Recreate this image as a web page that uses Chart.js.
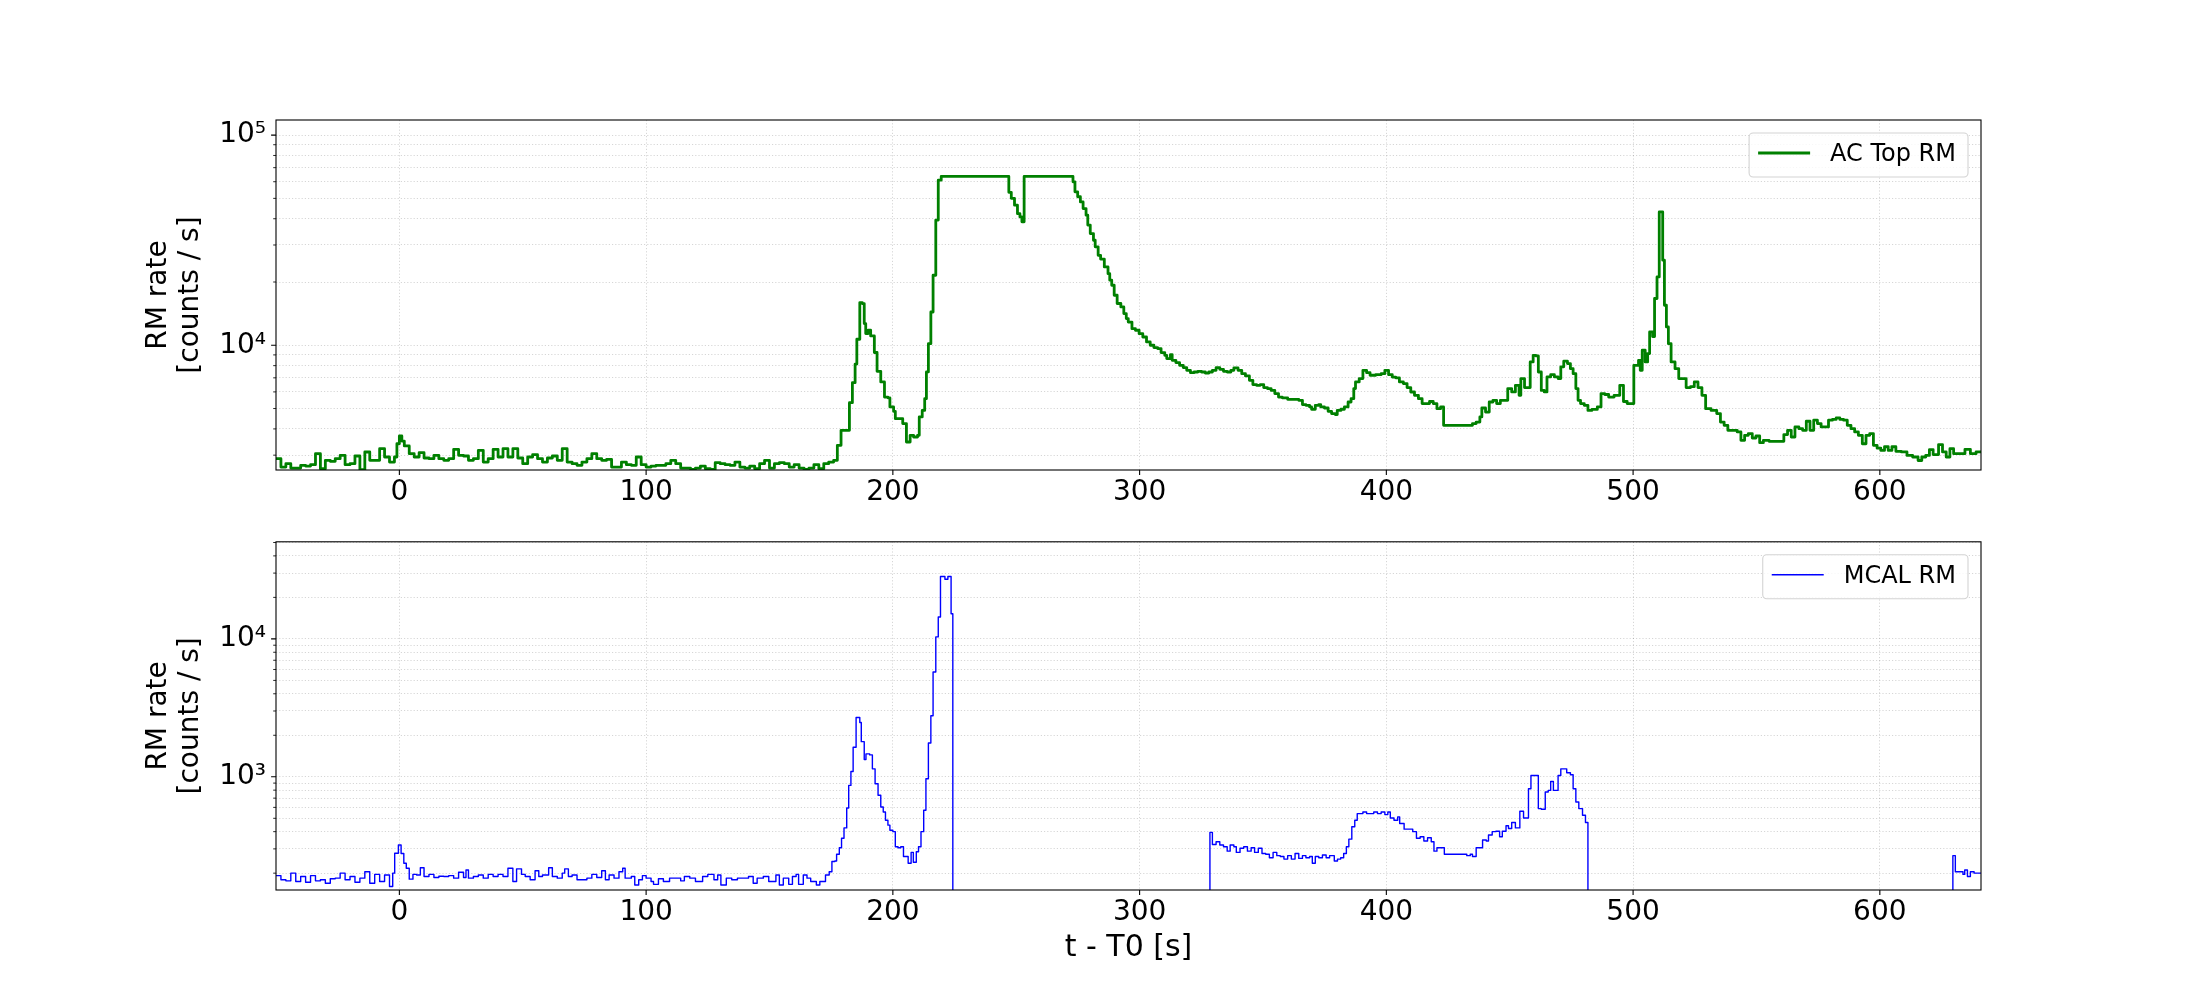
<!DOCTYPE html>
<html>
<head>
<meta charset="utf-8">
<script src="https://cdn.jsdelivr.net/npm/chart.js@4.4.1/dist/chart.umd.min.js"></script>
<style>
  html, body { margin: 0; padding: 0; background: #fff; }
  #wrap { position: relative; width: 2200px; height: 1000px; background: #fff; }
  canvas { position: absolute; left: 0; }
</style>
</head>
<body>
<div id="wrap">
  <canvas id="acChart" width="2200" height="515" style="top:0px"></canvas>
  <canvas id="mcalChart" width="2200" height="485" style="top:515px"></canvas>
</div>
<script>
// AC Top ratemeter: bin start time (s) and rate (counts / s)
const acTime = [
  -50, -48, -46, -44, -42, -40, -38, -36, -34, -32,
  -30, -28, -26, -24, -22, -20, -18, -16, -14, -12,
  -10, -8, -6, -4, -2, -1, 0, 1, 2, 4,
  6, 8, 10, 12, 14, 16, 18, 20, 22, 24,
  26, 28, 30, 32, 34, 36, 38, 40, 42, 44,
  46, 48, 50, 52, 54, 56, 58, 60, 62, 64,
  66, 68, 70, 72, 74, 76, 78, 80, 82, 84,
  86, 88, 90, 92, 94, 96, 98, 100, 102, 104,
  106, 108, 110, 112, 114, 116, 118, 120, 122, 124,
  126, 128, 130, 132, 134, 136, 138, 140, 142, 144,
  146, 148, 150, 152, 154, 156, 158, 160, 162, 164,
  166, 168, 170, 172, 174, 176,
  177.5, 179, 182.4, 183.6, 184.7, 185.4, 186.6, 187.6, 188.4, 189,
  190, 191, 192.5, 193.6, 195.1, 196.6, 198, 198.8, 200.3, 201,
  204, 205.5, 207, 208.4, 210, 210.7, 211.9, 212.9, 213.6, 214.4,
  215.4, 216.3, 217.4, 218.4, 219.6, 247, 248, 249.3, 250.5, 251.5,
  252.3, 253.2, 273, 273.8, 274.9, 276, 277.1, 278.3, 279, 280,
  281.3, 282, 283.2, 284.2, 285.7, 287.2, 287.9, 288.7, 289.7, 290.9,
  292.4, 293.6, 294.6, 295.4, 296.9, 298.3, 299.8, 301.3, 302.8, 304.3,
  305.8, 307.3, 308.7, 310.2, 311, 312.5, 313.2, 314.7, 316.2, 317.7,
  319.1, 320.6, 322.1, 323.6, 325.1, 326.6, 328.1, 329.5, 331, 332.5,
  334, 335.5, 337, 338.2, 339.9, 341.4, 342.9, 344.5, 345.9, 347.4,
  348.9, 350.3, 351.8, 353.3, 354.8, 356.3, 357.8, 360, 362.2, 364.5,
  366, 367.4, 368.9, 369.7, 371.2, 372.6, 373.4, 374.9, 376.4, 377.8,
  379.3, 380.1, 381.6, 383, 384.5, 385.7, 386.8, 387.5, 389, 390.5,
  392, 393.4, 395.7, 397.9, 399.4, 400.9, 402.4, 403.8, 405.3, 406.9,
  408.4, 409.9, 411.4, 413, 414.5, 416, 417.5, 419, 420.5, 422,
  423.2, 434.9, 436.4, 437.9, 438.7, 440.2, 441.7, 443.2, 444.7, 446.2,
  449.2, 450.8, 452.3, 453.8, 454.5, 456, 458.3, 459.5, 460.6, 461.6,
  462.8, 464, 465.1, 466.6, 468.1, 469.6, 470.7, 471.9, 473.4, 474.6,
  475.7, 476.8, 477.7, 478.7, 480.2, 481.7, 483.3, 485.5, 487, 488.5,
  490.1, 492.3, 494.6, 496.1, 497.6, 500.3, 502.2, 502.9, 503.7, 504.9,
  505.9, 506.7, 507.9, 508.7, 509.7, 510.6, 512, 512.7, 513.5, 514.3,
  515.4, 517, 518.5, 521.5, 523.3, 524.8, 526.3, 527.9, 529.4, 531.6,
  533.9, 535.4, 536.9, 538.4, 542.2, 543.7, 545.2, 546.7, 548.3, 549.8,
  551.3, 552.8, 555.1, 561.1, 562.6, 564.1, 565.6, 567.2, 568.7, 570.2,
  571.7, 573.2, 574.7, 576.2, 579.2, 580.8, 582.3, 583.8, 585.3, 586.8,
  588.3, 589.8, 591.3, 592.9, 594.4, 595.9, 597.4, 598.9, 600.4, 601.9,
  603.4, 604.9, 606.5, 608.7, 611, 613.3, 615.5, 617, 618.6, 620.1,
  621.6, 623.8, 625.4, 626.9, 628.4, 629.9, 632.2, 634.5, 636.7, 639,
  641
];
const acRate = [
  2886, 2634, 2732, 2605, 2605, 2683, 2663, 2702, 3050, 2586,
  2834, 2803, 2886, 2994, 2702, 2732, 2972, 2560, 3106, 2834,
  2834, 3220, 2940, 2782, 2940, 3400, 3700, 3500, 3320, 3050,
  2940, 3083, 2908, 2886, 2994, 2886, 2834, 2886, 3200, 2994,
  2972, 2834, 2886, 3162, 2782, 2886, 3200, 2940, 3220, 2940,
  3220, 2908, 2732, 2940, 3016, 2886, 2782, 2908, 2972, 2834,
  3220, 2782, 2732, 2683, 2782, 2886, 3050, 2886, 2834, 2865,
  2634, 2634, 2782, 2702, 2683, 2940, 2702, 2634, 2663, 2683,
  2683, 2732, 2834, 2732, 2605, 2605, 2568, 2605, 2663, 2586,
  2568, 2762, 2732, 2702, 2683, 2782, 2634, 2605, 2663, 2586,
  2732, 2834, 2605, 2732, 2762, 2732, 2634, 2702, 2605, 2568,
  2605, 2702, 2586, 2732, 2782, 2834,
  3341, 3937, 5330, 6640, 8140, 10680, 15960, 15790, 12680, 11370,
  11800, 11080, 9240, 7520, 6690, 5670, 5620, 5090, 4850, 4476,
  4240, 3465, 3728, 3660, 3728, 4560, 4900, 5572, 7464, 10180,
  14400, 21540, 39400, 61000, 63560, 53400, 50000, 46400, 42300, 40800,
  38700, 63560, 59950, 53700, 50900, 48100, 44700, 41600, 37300, 34000,
  31600, 29400, 26800, 25700, 23600, 21900, 20400, 19300, 17300, 15800,
  15220, 14150, 13400, 12900, 12000, 11790, 11360, 10950, 10370, 10000,
  9750, 9640, 9230, 8960, 8640, 9030, 8480, 8270, 8030, 7830,
  7600, 7410, 7460, 7520, 7460, 7380, 7460, 7600, 7830, 7680,
  7520, 7460, 7600, 7800, 7600, 7330, 7150, 6810, 6500, 6450,
  6500, 6290, 6220, 6100, 5890, 5670, 5620, 5530, 5530, 5470,
  5220, 5180, 5090, 4960, 5180, 5220, 5090, 5030, 4850, 4730,
  4680, 4900, 4960, 5090, 5370, 5570, 6220, 6690, 6940, 7600,
  7410, 7200, 7250, 7330, 7600, 7250, 7060, 7000, 6690, 6570,
  6290, 5995, 5780, 5570, 5280, 5280, 5400, 5280, 4990, 5090,
  4160, 4240, 4310, 4560, 5030, 4810, 5370, 5470, 5280, 5470,
  6220, 6000, 6450, 5780, 6940, 6290, 8330, 8960, 8900, 7460,
  6100, 6000, 7070, 7250, 7070, 6940, 7900, 8400, 8180, 7740,
  7330, 6220, 5470, 5280, 5180, 4900, 4950, 5090, 5890, 5830,
  5670, 5780, 6450, 5400, 5280, 8030, 8480, 7600, 9470, 8330,
  9130, 11570, 11000, 16690, 21150, 43100, 25400, 15500, 12230, 10180,
  8330, 7740, 6940, 6290, 6350, 6690, 6290, 5780, 4990, 4900,
  4730, 4310, 4160, 3940, 3870, 3530, 3730, 3800, 3620, 3700,
  3440, 3530, 3490, 3760, 3940, 3660, 4090, 4010, 3940, 4350,
  3940, 4400, 4240, 4090, 4400, 4440, 4510, 4440, 4400, 4160,
  4010, 3870, 3730, 3400, 3730, 3800, 3340, 3240, 3160, 3290,
  3160, 3290, 3130, 3110, 2990, 2940, 2830, 2940, 2990, 3190,
  3020, 3370, 3110, 2940, 3220, 3050, 3050, 3200, 3050, 3110,
  3110
];

// MCAL ratemeter: bin start time (s) and rate (counts / s); 1 = no counts (data gap)
const mcalTime = [
  -50, -48, -46, -44, -42, -40, -38, -36, -34, -32,
  -30, -28, -26, -24, -22, -20, -18, -16, -14, -12,
  -10, -8, -6, -4,
  -2.7, -1.9, -0.4, 0.7, 1.8, 2.8, 4, 5.5, 7, 8.5,
  10, 12, 14, 16, 18, 20, 22, 24, 26, 27,
  28, 30, 32, 34, 36, 38, 40, 42, 44, 46,
  47.5, 49.5, 51, 53, 55, 56.5, 58, 60.5, 62, 64,
  66, 67, 68.5, 70, 72, 75, 76, 78, 80, 82,
  83.5, 85, 87, 89, 90.5, 91.5, 94, 95.4, 97, 98.5,
  100, 102, 103, 105, 107, 109.5, 111.7, 114, 115.5, 117.7,
  120, 122.9, 125, 127.5, 129, 130.3, 132.5, 134.7, 137, 139,
  141.5, 143.4, 145, 147.5, 149.7, 152.6, 154, 155.6, 157.8, 159.3,
  160.8, 161.8, 163.7, 165.2, 166.7, 169, 170.4, 172.7, 174.2, 175.3,
  176.5, 177.2, 178.3, 179.2, 180.2, 181.3, 182.1, 183, 183.9, 185.1,
  186.6, 187.2, 188.4, 189.1, 190.6, 191.7, 192.8, 194, 195.1, 196.1,
  197, 198, 198.8, 200, 201, 202.1, 203.2, 204.3, 206.2, 207.4,
  208.3, 209.5, 210.4, 211.4, 212.5, 213.4, 214.4, 215.4, 216.3, 217.4,
  218.4, 219.3, 221.1, 222.3, 223.6, 224.3, 328.5, 329.5, 331, 332.5,
  334, 335.5, 336.7, 338.2, 339.2, 340.7, 342.2, 343.7, 345.2, 346.6,
  348.1, 349.6, 351.1, 352.6, 354.1, 355.6, 357, 358.5, 360, 361.5,
  363, 364.5, 366, 367.4, 368.9, 370, 371.2, 372.6, 374.1, 375.6,
  377, 378.9, 380.2, 381.5, 382.7, 383.8, 384.8, 386, 387.2, 388.2,
  390.5, 392, 393.5, 394.9, 396.4, 397.9, 399.4, 400.6, 401.6, 403.1,
  404.6, 405.4, 407.2, 410.7, 412.2, 413.7, 415.2, 416.7, 418.2, 419.3,
  420.5, 423.5, 432.6, 434, 434.9, 436.4, 439, 440.5, 441.4, 442.9,
  444.4, 445.9, 447, 448.5, 449.5, 450.8, 452.3, 454.1, 455.6, 457.6,
  458.6, 461.6, 462.8, 464.4, 465.6, 466.6, 467.7, 469.6, 470.7, 473.1,
  474.6, 475.7, 476.8, 478, 479.5, 480.7, 481.7, 629.6, 630.6, 633.7,
  634.4, 635.5, 636.7, 638.2, 641
];
const mcalRate = [
  192, 179, 176, 200, 174, 189, 172, 192, 176, 179,
  169, 182, 184, 200, 179, 189, 172, 184, 205, 169,
  196, 174, 194, 160,
  200, 279, 320, 278, 236, 217, 181, 196, 194, 219,
  189, 196, 186, 190, 189, 192, 184, 203, 186, 211,
  184, 189, 194, 184, 196, 189, 196, 189, 217, 174,
  215, 196, 189, 179, 208, 189, 194, 219, 189, 184,
  200, 215, 189, 194, 179, 179, 184, 196, 186, 208,
  179, 194, 184, 205, 217, 184, 189, 164, 179, 192,
  184, 174, 166, 182, 174, 184, 184, 176, 189, 184,
  174, 189, 196, 179, 194, 164, 184, 179, 184, 184,
  189, 169, 184, 189, 174, 194, 164, 184, 166, 189,
  196, 166, 194, 184, 174, 164, 174, 194, 205, 243,
  245, 274, 306, 358, 426, 594, 866, 1093, 1637, 2694,
  2478, 1798, 1334, 1465, 1441, 1142, 890, 734, 604, 556,
  484, 446, 410, 400, 311, 306, 311, 264, 236, 283,
  240, 286, 311, 400, 572, 967, 1759, 2768, 5750, 10340,
  14410, 28330, 27080, 28330, 15230, 1, 395, 323, 338, 320,
  311, 289, 320, 311, 283, 303, 311, 289, 306, 283,
  303, 278, 274, 259, 283, 268, 264, 253, 268, 253,
  278, 256, 268, 259, 264, 236, 264, 259, 271, 259,
  268, 245, 253, 259, 278, 311, 353, 434, 484, 541,
  556, 541, 541, 556, 541, 556, 532, 556, 503, 484,
  512, 458, 417, 400, 358, 367, 342, 361, 338, 289,
  306, 274, 268, 274, 264, 306, 348, 342, 378, 400,
  403, 367, 403, 441, 422, 466, 426, 562, 503, 819,
  1022, 588, 581, 775, 797, 925, 797, 1022, 1142, 1069,
  1034, 819, 657, 588, 526, 466, 1, 268, 205, 196,
  211, 189, 205, 200, 200
];

const xTicks = [0, 100, 200, 300, 400, 500, 600];
const xRange = [-50, 641];
const acYRange = [2550, 118000];
const mcalYRange = [151, 50600];

const FONT = '"DejaVu Sans", sans-serif';
Chart.defaults.font.family = FONT;
Chart.defaults.color = '#000';

const SUP = { '0': '⁰', '1': '¹', '2': '²', '3': '³', '4': '⁴', '5': '⁵', '6': '⁶', '7': '⁷', '8': '⁸', '9': '⁹' };
function isDecade(v) {
  const e = Math.log10(v);
  return Math.abs(e - Math.round(e)) < 1e-9;
}
function logTicks(min, max) {
  const out = [];
  for (let e = Math.floor(Math.log10(min)); e <= Math.ceil(Math.log10(max)); e++) {
    for (let m = 1; m < 10; m++) {
      const v = m * Math.pow(10, e);
      if (v >= min && v <= max) out.push({ value: v });
    }
  }
  return out;
}

// frame, tick marks and boxed legend, drawn like matplotlib
const framePlugin = {
  id: 'frame',
  afterDatasetsDraw(chart, args, opts) {
    const { ctx, chartArea: a } = chart;
    const xs = chart.scales.x, ys = chart.scales.y;
    ctx.save();
    ctx.strokeStyle = '#000';
    ctx.lineWidth = 1.1;
    ctx.strokeRect(a.left, a.top, a.right - a.left, a.bottom - a.top);

    ctx.beginPath();
    xs.ticks.forEach(t => {
      const px = xs.getPixelForValue(t.value);
      ctx.moveTo(px, a.bottom);
      ctx.lineTo(px, a.bottom + 4.9);
    });
    ys.ticks.forEach(t => {
      if (!isDecade(t.value)) return;
      const py = ys.getPixelForValue(t.value);
      ctx.moveTo(a.left, py);
      ctx.lineTo(a.left - 4.9, py);
    });
    ctx.stroke();

    ctx.lineWidth = 0.85;
    ctx.beginPath();
    ys.ticks.forEach(t => {
      if (isDecade(t.value)) return;
      const py = ys.getPixelForValue(t.value);
      ctx.moveTo(a.left, py);
      ctx.lineTo(a.left - 2.8, py);
    });
    ctx.stroke();

    // legend box
    ctx.font = '24px ' + FONT;
    const tw = ctx.measureText(opts.label).width;
    const right = a.right - 13, top = a.top + 13, h = 44;
    const left = right - tw - 93;
    ctx.fillStyle = 'rgba(255,255,255,0.8)';
    ctx.strokeStyle = '#d3d3d3';
    ctx.lineWidth = 1.1;
    ctx.beginPath();
    ctx.roundRect(left, top, right - left, h, 4);
    ctx.fill();
    ctx.stroke();
    ctx.strokeStyle = opts.color;
    ctx.lineWidth = opts.width;
    ctx.beginPath();
    ctx.moveTo(left + 9, top + 20);
    ctx.lineTo(left + 61, top + 20);
    ctx.stroke();
    ctx.fillStyle = '#000';
    ctx.textAlign = 'left';
    ctx.textBaseline = 'alphabetic';
    ctx.fillText(opts.label, left + 81, top + 28);
    ctx.restore();
  }
};

function makeChart(id, cfg) {
  const tickFont = { family: FONT, size: 28, lineHeight: 1.2 };
  const gridColor = 'rgba(0,0,0,0.16)';
  return new Chart(document.getElementById(id), {
    type: 'line',
    data: {
      datasets: [{
        label: cfg.label,
        data: cfg.time.map((t, i) => ({ x: t, y: cfg.rate[i] })),
        borderColor: cfg.color,
        borderWidth: cfg.width,
        borderJoinStyle: 'round',
        stepped: 'before',
        pointRadius: 0,
        fill: false
      }]
    },
    options: {
      responsive: false,
      animation: false,
      devicePixelRatio: 1,
      events: [],
      layout: { padding: { top: cfg.padTop, right: 219, bottom: 0, left: 0 } },
      plugins: {
        legend: { display: false },
        tooltip: { enabled: false },
        frame: { label: cfg.label, color: cfg.color, width: cfg.width }
      },
      scales: {
        x: {
          type: 'linear',
          min: xRange[0],
          max: xRange[1],
          afterBuildTicks: s => { s.ticks = xTicks.map(v => ({ value: v })); },
          afterFit: s => { s.height = cfg.xAxisHeight; },
          grid: { color: gridColor, lineWidth: 1, drawTicks: false },
          border: { display: false, dash: [1.2, 2] },
          ticks: { font: tickFont, color: '#000', padding: 6, maxRotation: 0, autoSkip: false,
                   callback: v => String(v) },
          title: cfg.xTitle
            ? { display: true, text: cfg.xTitle, color: '#000',
                font: { family: FONT, size: 30, lineHeight: 1.2 }, padding: { top: 0, bottom: 34 } }
            : { display: false }
        },
        y: {
          type: 'logarithmic',
          min: cfg.yRange[0],
          max: cfg.yRange[1],
          afterBuildTicks: s => { s.ticks = logTicks(cfg.yRange[0], cfg.yRange[1]); },
          afterFit: s => { s.width = 276; },
          grid: { color: gridColor, lineWidth: 1, drawTicks: false },
          border: { display: false, dash: [1.2, 2] },
          ticks: {
            font: tickFont, color: '#000', padding: 10, autoSkip: false,
            callback: v => isDecade(v)
              ? '10' + String(Math.round(Math.log10(v))).split('').map(c => SUP[c]).join('')
              : ''
          },
          title: {
            display: true,
            text: ['RM rate', '[counts / s]'],
            color: '#000',
            font: { family: FONT, size: 28, lineHeight: 1.16 },
            padding: { top: 142, bottom: 0 }
          }
        }
      }
    },
    plugins: [framePlugin]
  });
}

makeChart('acChart', {
  label: 'AC Top RM', time: acTime, rate: acRate, color: '#008000', width: 2.8,
  yRange: acYRange, padTop: 120, xAxisHeight: 45, xTitle: null
});
makeChart('mcalChart', {
  label: 'MCAL RM', time: mcalTime, rate: mcalRate, color: '#0000ff', width: 1.4,
  yRange: mcalYRange, padTop: 25, xAxisHeight: 110, xTitle: 't - T0 [s]'
});
</script>
</body>
</html>
